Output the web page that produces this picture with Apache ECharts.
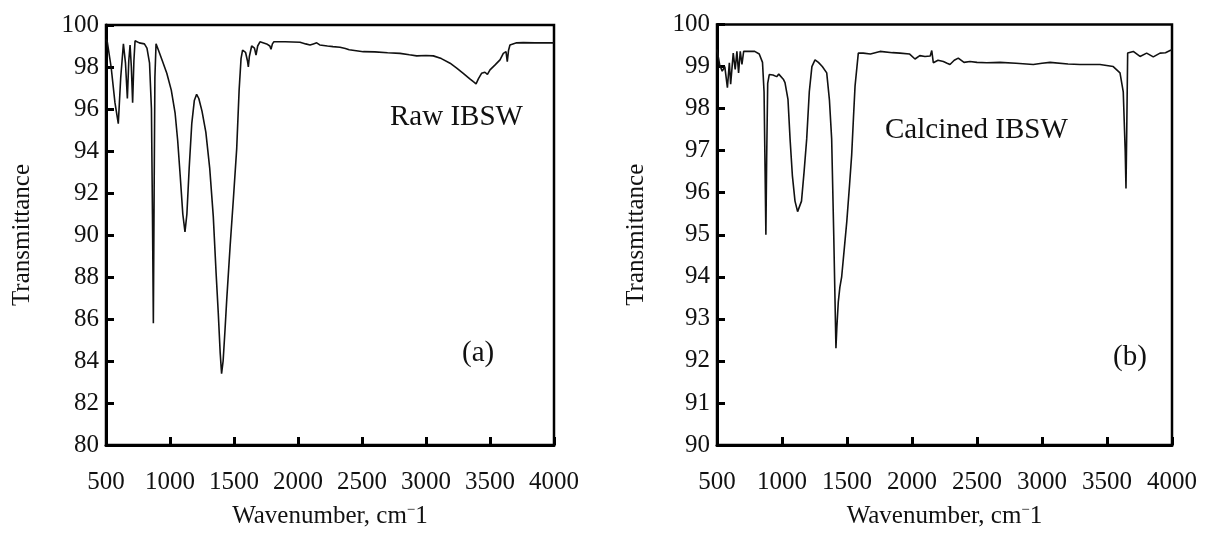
<!DOCTYPE html>
<html>
<head>
<meta charset="utf-8">
<script src="https://cdn.jsdelivr.net/npm/echarts@6/dist/echarts.min.js"></script>
<style>
html,body{margin:0;padding:0;background:#fff;}
#chart{width:1209px;height:534px;}
</style>
</head>
<body>
<div id="chart"></div>
<script>
// ---- Raw IBSW (a) ----
const rawWavenumber = [500,510,540,570,596,615,636,652,667,678,688,698,708,718,727,760,800,820,840,855,863,870,876,882,891,910,940,975,1010,1040,1060,1080,1100,1117,1132,1150,1170,1190,1208,1225,1250,1280,1310,1338,1360,1377,1392,1403,1415,1430,1443,1470,1495,1521,1540,1555,1567,1590,1605,1612,1620,1638,1660,1672,1685,1703,1755,1780,1789,1800,1812,1900,2016,2060,2094,2120,2146,2170,2230,2273,2328,2370,2400,2510,2600,2700,2797,2870,2927,3000,3057,3120,3188,3240,3291,3340,3370,3391,3410,3434,3460,3480,3500,3540,3578,3604,3625,3635,3645,3656,3708,3760,3850,4000];
const rawTransmittance = [99.3,99.2,98.0,96.3,95.3,97.5,99.1,98.2,96.5,98.3,99.05,98.0,96.3,98.3,99.25,99.15,99.1,98.9,98.2,96.0,91.0,85.8,92.0,97.5,99.1,98.8,98.3,97.7,96.9,95.8,94.5,92.8,91.0,90.15,91.0,93.2,95.3,96.4,96.7,96.5,95.9,94.9,93.2,90.9,88.2,86.3,84.4,83.4,84.0,85.5,86.9,89.5,91.7,94.1,96.9,98.4,98.8,98.7,98.3,98.0,98.5,99.0,98.9,98.57,99.0,99.2,99.1,99.0,98.84,99.1,99.2,99.2,99.18,99.1,99.05,99.1,99.15,99.05,99.0,98.97,98.94,98.88,98.82,98.73,98.72,98.68,98.65,98.58,98.53,98.55,98.53,98.4,98.18,97.95,97.7,97.45,97.3,97.2,97.45,97.7,97.75,97.65,97.86,98.1,98.34,98.65,98.73,98.26,98.8,99.05,99.15,99.16,99.15,99.15];

// ---- Calcined IBSW (b) ----
const calWavenumber = [500,510,520,540,560,580,595,605,625,640,653,666,679,692,705,730,790,825,850,862,870,876,882,890,902,930,959,975,990,1010,1023,1046,1062,1080,1100,1120,1131,1150,1170,1190,1210,1230,1254,1280,1310,1344,1365,1382,1398,1415,1422,1433,1445,1459,1480,1498,1520,1536,1550,1562,1587,1625,1680,1754,1850,1908,1980,2023,2060,2100,2140,2152,2164,2200,2241,2270,2292,2325,2356,2400,2446,2500,2575,2677,2800,2933,3000,3062,3200,3292,3446,3548,3600,3625,3640,3646,3652,3659,3702,3754,3805,3856,3908,3950,3985,4000];
const calTransmittance = [99.4,99.4,99.05,98.89,99.0,98.5,99.09,98.58,99.32,98.93,99.36,98.85,99.36,99.05,99.36,99.36,99.36,99.3,99.1,98.4,96.5,95.0,96.8,98.6,98.81,98.8,98.76,98.82,98.8,98.7,98.62,98.22,97.28,96.4,95.8,95.55,95.52,95.8,96.5,97.28,98.4,99.0,99.16,99.1,99.0,98.85,98.2,97.28,95.0,92.3,92.8,93.4,93.75,94.0,94.7,95.3,96.2,96.9,97.8,98.54,99.32,99.32,99.3,99.36,99.33,99.32,99.3,99.18,99.26,99.24,99.25,99.38,99.09,99.15,99.12,99.08,99.05,99.15,99.2,99.1,99.12,99.1,99.09,99.1,99.08,99.05,99.08,99.1,99.06,99.05,99.05,99.0,98.85,98.4,97.0,96.1,97.5,99.32,99.36,99.24,99.32,99.23,99.32,99.33,99.38,99.4];

// ---- Axes ----
const xTicks = {min: 500, max: 4000, interval: 500};
const yTicksA = {min: 80, max: 100, interval: 2};
const yTicksB = {min: 90, max: 100, interval: 1};
const yName = 'Transmittance';
const xName = 'Wavenumber, cm{s|−}1';
const labelA = 'Raw IBSW', tagA = '(a)';
const labelB = 'Calcined IBSW', tagB = '(b)';

const FONT = '"Liberation Serif", "Times New Roman", serif';
const chart = echarts.init(document.getElementById('chart'), null, {renderer: 'canvas'});

function xAxisCfg(gi) {
  return {
    type: 'value', gridIndex: gi, min: xTicks.min, max: xTicks.max, interval: xTicks.interval,
    name: xName, nameLocation: 'middle', nameGap: 58,
    nameTextStyle: {fontFamily: FONT, fontSize: 25, color: '#111',
      rich: {s: {fontFamily: FONT, fontSize: 15, color: '#111', padding: [0, 0, 12, 0]}}},
    axisLine: {show: true, onZero: false, lineStyle: {color: '#000', width: 3}},
    axisTick: {show: true, inside: true, length: 8, lineStyle: {color: '#000', width: 3}},
    axisLabel: {fontFamily: FONT, fontSize: 25, color: '#111', margin: 25,
      formatter: v => String(v)},
    splitLine: {show: false}
  };
}
function yAxisCfg(gi, t, gap) {
  return {
    type: 'value', gridIndex: gi, min: t.min, max: t.max, interval: t.interval,
    name: yName, nameLocation: 'middle', nameGap: gap,
    nameTextStyle: {fontFamily: FONT, fontSize: 25, color: '#111'},
    axisLine: {show: true, onZero: false, lineStyle: {color: '#000', width: 3}},
    axisTick: {show: true, inside: true, length: 8, lineStyle: {color: '#000', width: 3}},
    axisLabel: {fontFamily: FONT, fontSize: 25, color: '#111', margin: 7,
      formatter: v => String(v)},
    splitLine: {show: false}
  };
}

const rawData = rawWavenumber.map((w, i) => [w, rawTransmittance[i]]);
const calData = calWavenumber.map((w, i) => [w, calTransmittance[i]]);

const textStyle = (t, x, y) => ({
  type: 'text', x: x, y: y, z: 100,
  style: {text: t, fontFamily: FONT, fontSize: 29, fill: '#111', verticalAlign: 'middle', align: 'left'}
});

chart.setOption({
  animation: false,
  backgroundColor: '#fff',
  grid: [
    {left: 106, right: 655, top: 25, bottom: 89, show: true, borderColor: '#000', borderWidth: 2.5, containLabel: false},
    {left: 717, right: 37, top: 24.5, bottom: 84.5, show: true, borderColor: '#000', borderWidth: 2.5, containLabel: false}
  ],
  xAxis: [xAxisCfg(0), xAxisCfg(1)],
  yAxis: [yAxisCfg(0, yTicksA, 71), yAxisCfg(1, yTicksB, 68)],
  series: [
    {type: 'line', xAxisIndex: 0, yAxisIndex: 0, data: rawData, showSymbol: false,
     lineStyle: {color: '#111', width: 1.6}, clip: true},
    {type: 'line', xAxisIndex: 1, yAxisIndex: 1, data: calData, showSymbol: false,
     lineStyle: {color: '#111', width: 1.6}, clip: true}
  ],
  graphic: [
    textStyle(labelA, 390, 117),
    textStyle(tagA, 462, 353),
    textStyle(labelB, 885, 130),
    textStyle(tagB, 1113, 357)
  ]
});
</script>
</body>
</html>
